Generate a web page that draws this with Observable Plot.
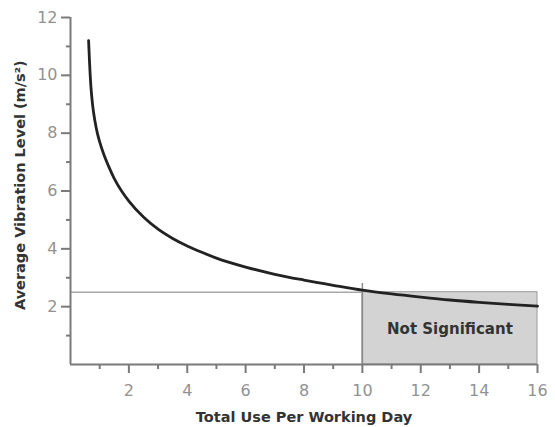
<!DOCTYPE html>
<html>
<head>
<meta charset="utf-8">
<script src="https://cdn.jsdelivr.net/npm/d3@7"></script>
<script src="https://cdn.jsdelivr.net/npm/@observablehq/plot@0.6"></script>
<style>
  html, body { margin: 0; padding: 0; background: #fff; }
  #chart svg { display: block; }
</style>
</head>
<body>
<div id="chart"></div>
<script>
// Curve values
const hours = [0.62, 0.65, 0.7, 0.76, 0.84, 0.92, 1.0, 1.13, 1.3, 1.5, 1.75, 2.0, 2.5, 3.0, 3.5, 4.0, 4.5, 5.0, 6.0, 7.0, 8.0, 9.0, 10.0, 11.0, 12.0, 13.0, 14.0, 15.0, 16.0];
const vibration = [11.2, 10.5, 9.6, 8.95, 8.4, 8.0, 7.7, 7.3, 6.87, 6.43, 6.0, 5.65, 5.1, 4.68, 4.36, 4.1, 3.88, 3.68, 3.37, 3.12, 2.92, 2.74, 2.57, 2.44, 2.33, 2.23, 2.15, 2.08, 2.02];

const xMajorTicks = [2, 4, 6, 8, 10, 12, 14, 16];
const xMinorTicks = [1, 3, 5, 7, 9, 11, 13, 15];
const yMajorTicks = [2, 4, 6, 8, 10, 12];
const yMinorTicks = [1, 3, 5, 7, 9, 11];

const threshold = 2.5;
const regionStart = 10;
const regionEnd = 16;
const regionLabel = "Not Significant";
const xLabel = "Total Use Per Working Day";
const yLabel = "Average Vibration Level (m/s²)";

const curve = hours.map((h, i) => ({h, v: vibration[i]}));

const tickFont = "DejaVu Sans, sans-serif";
const labelFont = "DejaVu Sans, sans-serif";

const plot = Plot.plot({
  width: 555,
  height: 427,
  marginLeft: 70,
  marginRight: 18,
  marginTop: 17,
  marginBottom: 63,
  style: {fontFamily: tickFont, background: "#fff"},
  x: {domain: [0, 16]},
  y: {domain: [0, 12]},
  marks: [
    Plot.rect([{x1: regionStart, x2: regionEnd, y1: 0, y2: threshold}], {
      x1: "x1", x2: "x2", y1: "y1", y2: "y2",
      fill: "#d3d3d3", stroke: "#9a9a9a", strokeWidth: 1
    }),
    Plot.ruleY([threshold], {x1: 0, x2: regionStart, stroke: "#a8a8a8", strokeWidth: 1.5}),
    Plot.ruleX([regionStart], {y1: 0, y2: 2.8, stroke: "#8a8a8a", strokeWidth: 1.5}),
    Plot.text([regionLabel], {
      x: (regionStart + regionEnd) / 2, y: threshold / 2, dy: 1,
      fontWeight: "bold", fontSize: 15, fill: "#333", fontFamily: labelFont
    }),
    Plot.line(curve, {x: "h", y: "v", curve: "monotone-x", stroke: "#222", strokeWidth: 2.8}),
    Plot.ruleX([0], {y1: 0, y2: 12, stroke: "#7a7a7a", strokeWidth: 2}),
    Plot.ruleY([0], {x1: 0, x2: 16, stroke: "#7a7a7a", strokeWidth: 2}),
    Plot.axisX(xMajorTicks, {tickSize: 9, tickPadding: 11, stroke: "#7a7a7a", strokeWidth: 2, fill: "#929292", fontSize: 16, label: null}),
    Plot.axisX(xMinorTicks, {tickSize: 5, tickFormat: () => "", stroke: "#7a7a7a", strokeWidth: 2, label: null}),
    Plot.axisY(yMajorTicks, {tickSize: 9, tickPadding: 4, stroke: "#7a7a7a", strokeWidth: 2, fill: "#929292", fontSize: 16, label: null}),
    Plot.axisY(yMinorTicks, {tickSize: 4, tickFormat: () => "", stroke: "#7a7a7a", strokeWidth: 2, label: null}),
    Plot.text([xLabel], {
      x: 8, y: 0, dy: 53,
      fontWeight: "bold", fontSize: 14.5, fill: "#333", fontFamily: labelFont
    }),
    Plot.text([yLabel], {
      x: 0, y: 6.2, dx: -50, rotate: -90,
      fontWeight: "bold", fontSize: 14.5, fill: "#333", fontFamily: labelFont
    })
  ]
});
document.getElementById("chart").appendChild(plot);
</script>
</body>
</html>
